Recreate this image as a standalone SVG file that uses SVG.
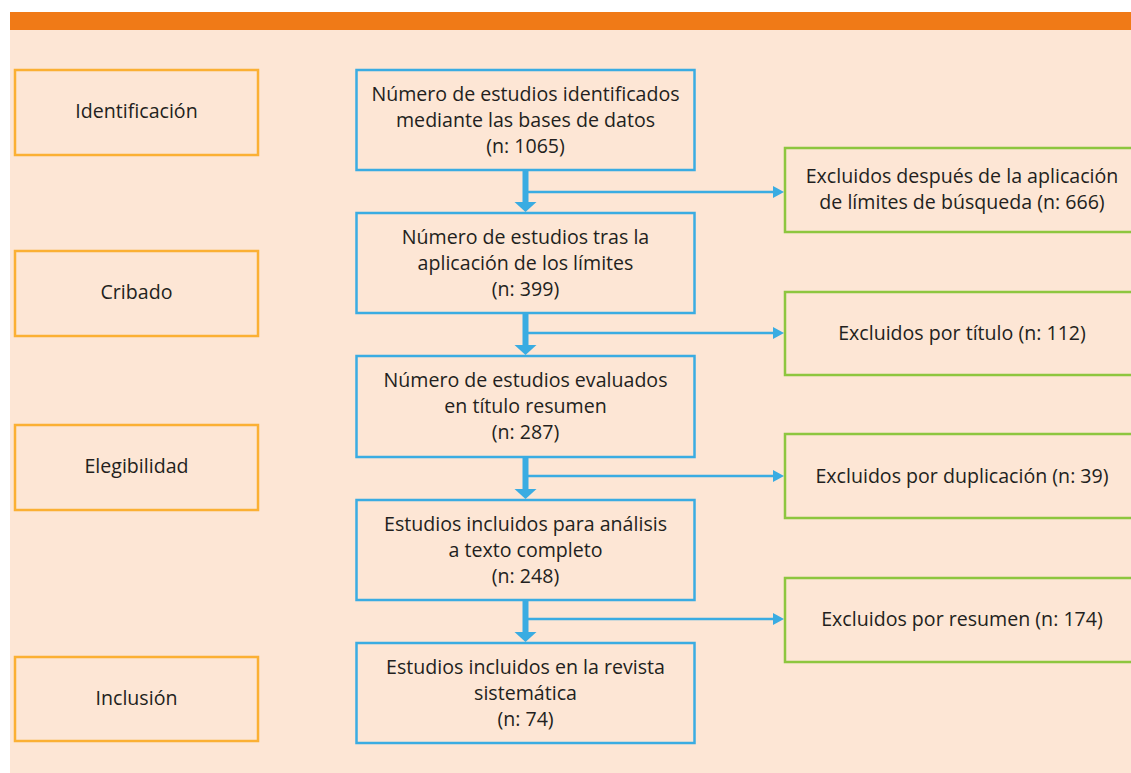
<svg xmlns="http://www.w3.org/2000/svg" width="1131" height="773" viewBox="0 0 1131 773">
<defs>
<style>
.stage{fill:none;stroke:#FBB034;stroke-width:2.5}
.main{fill:none;stroke:#3AACE2;stroke-width:2.5}
.excl{fill:none;stroke:#8DC63F;stroke-width:2.5}
text{font-family:"Open Sans","Noto Sans",sans-serif;font-size:19.6px;fill:#231F20;text-anchor:middle}
.thin{stroke:#3AACE2;stroke-width:2.5;fill:none}
.thick{stroke:#3AACE2;stroke-width:6;fill:none}
.head{fill:#3AACE2}
</style>
</defs>
<rect x="0" y="0" width="1131" height="773" fill="#FFFFFF"/>
<rect x="10" y="30" width="1121" height="743" fill="#FDE6D5"/>
<rect x="10" y="12" width="1121" height="18" fill="#F07A17"/>

<g id="stage-identificacion"><rect class="stage" x="15" y="70" width="243" height="85"/><text x="136.5" y="118">Identificación</text></g>
<g id="stage-cribado"><rect class="stage" x="15" y="251" width="243" height="85"/><text x="136.5" y="299">Cribado</text></g>
<g id="stage-elegibilidad"><rect class="stage" x="15" y="425" width="243" height="85"/><text x="136.5" y="473">Elegibilidad</text></g>
<g id="stage-inclusion"><rect class="stage" x="15" y="657" width="243" height="84"/><text x="136.5" y="705">Inclusión</text></g>

<g id="n1"><rect class="main" x="356.5" y="70" width="338" height="100"/><text x="525.5" y="101">Número de estudios identificados</text><text x="525.5" y="127">mediante las bases de datos</text><text x="525.5" y="153">(n: 1065)</text></g>
<g id="n2"><rect class="main" x="356.5" y="213" width="338" height="100"/><text x="525.5" y="244">Número de estudios tras la</text><text x="525.5" y="270">aplicación de los límites</text><text x="525.5" y="296">(n: 399)</text></g>
<g id="n3"><rect class="main" x="356.5" y="356" width="338" height="101"/><text x="525.5" y="387">Número de estudios evaluados</text><text x="525.5" y="413">en título resumen</text><text x="525.5" y="439">(n: 287)</text></g>
<g id="n4"><rect class="main" x="356.5" y="500" width="338" height="100"/><text x="525.5" y="531">Estudios incluidos para análisis</text><text x="525.5" y="557">a texto completo</text><text x="525.5" y="583">(n: 248)</text></g>
<g id="n5"><rect class="main" x="356.5" y="643" width="338" height="100"/><text x="525.5" y="674">Estudios incluidos en la revista</text><text x="525.5" y="700">sistemática</text><text x="525.5" y="726">(n: 74)</text></g>

<g id="e1"><rect class="excl" x="785" y="148" width="360" height="84"/><text x="962" y="183">Excluidos después de la aplicación</text><text x="962" y="209">de límites de búsqueda (n: 666)</text></g>
<g id="e2"><rect class="excl" x="785" y="292" width="360" height="83"/><text x="962" y="340">Excluidos por título (n: 112)</text></g>
<g id="e3"><rect class="excl" x="785" y="434" width="360" height="84"/><text x="962" y="483">Excluidos por duplicación (n: 39)</text></g>
<g id="e4"><rect class="excl" x="785" y="578" width="360" height="84"/><text x="962" y="626">Excluidos por resumen (n: 174)</text></g>

<g id="connectors">
<line class="thick" x1="525.5" y1="171" x2="525.5" y2="203"/><path class="head" d="M514.5,202 L536.5,202 L525.5,212 Z"/>
<line class="thin" x1="528" y1="192" x2="775" y2="192"/><path class="head" d="M773,186 L784,192 L773,198 Z"/>
<line class="thick" x1="525.5" y1="314" x2="525.5" y2="346"/><path class="head" d="M514.5,345 L536.5,345 L525.5,355 Z"/>
<line class="thin" x1="528" y1="333" x2="775" y2="333"/><path class="head" d="M773,327 L784,333 L773,339 Z"/>
<line class="thick" x1="525.5" y1="458" x2="525.5" y2="490"/><path class="head" d="M514.5,489 L536.5,489 L525.5,499 Z"/>
<line class="thin" x1="528" y1="476" x2="775" y2="476"/><path class="head" d="M773,470 L784,476 L773,482 Z"/>
<line class="thick" x1="525.5" y1="601" x2="525.5" y2="633"/><path class="head" d="M514.5,632 L536.5,632 L525.5,642 Z"/>
<line class="thin" x1="528" y1="619" x2="775" y2="619"/><path class="head" d="M773,613 L784,619 L773,625 Z"/>
</g>
</svg>
